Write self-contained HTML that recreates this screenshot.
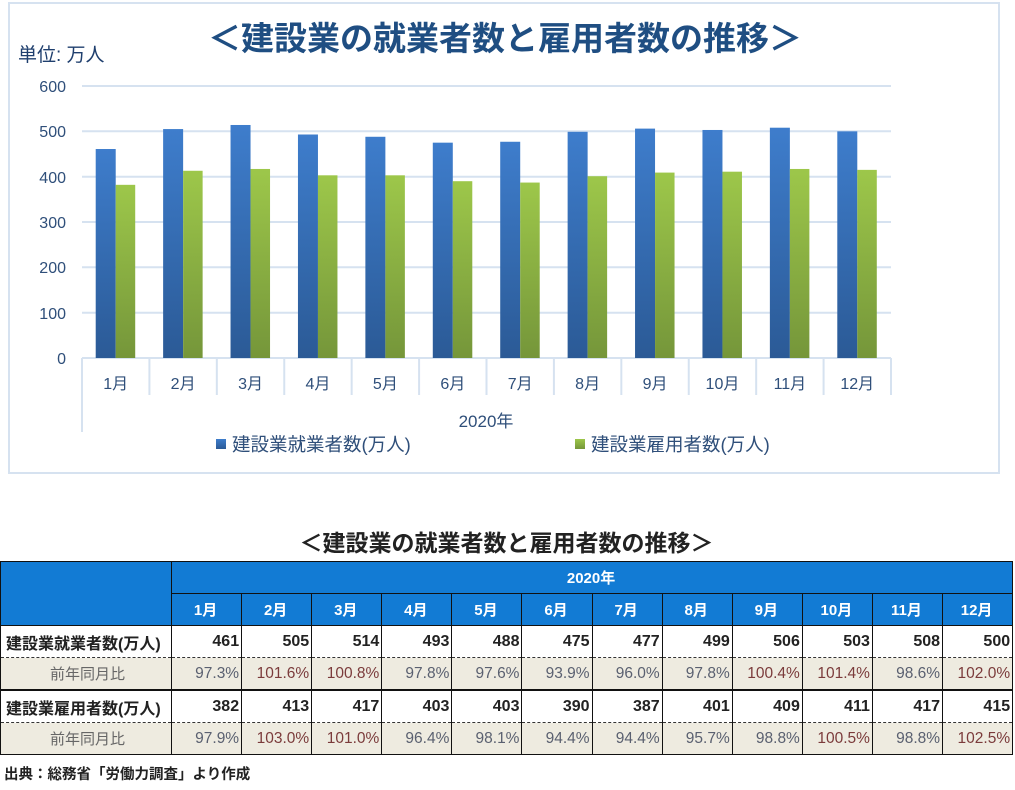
<!DOCTYPE html>
<html><head><meta charset="utf-8"><style>
body{margin:0;width:1015px;height:790px;background:#fff;position:relative;overflow:hidden;font-family:"Liberation Sans","Noto Sans CJK JP",sans-serif}
.a{position:absolute}
table{position:absolute;left:0;top:561px;border-collapse:collapse;table-layout:fixed;width:1013px}
td{padding:0 2px 0 0;text-align:right;font-size:16px;border:1px solid #111;white-space:nowrap;overflow:hidden}
.h td{background:#127bd4;color:#fff;font-weight:bold;text-align:center;height:31px;font-size:15px}
.v td{font-weight:bold;color:#222;height:31px;background:#fff;border-bottom:1px dashed #333}
.p td{background:#eeebe0;color:#5a6070;height:31px;border-top:1px dashed #333;font-size:15.5px}
.p td.r{color:#7b3b3b}
td.l{text-align:left;padding-left:5px}
.p td.l{text-align:center;color:#666;font-size:15px}
.thick td{border-top:2px solid #111}
</style></head><body>
<div class="a" style="left:8px;top:2px;width:988px;height:468px;border:2px solid #d6e2f0"></div>
<svg class="a" style="left:0;top:0" width="1015" height="480">
<defs>
<linearGradient id="gb" x1="0" y1="0" x2="0" y2="1"><stop offset="0" stop-color="#3e7dcc"/><stop offset="1" stop-color="#2b5a96"/></linearGradient>
<linearGradient id="gg" x1="0" y1="0" x2="0" y2="1"><stop offset="0" stop-color="#9dc74a"/><stop offset="1" stop-color="#75963a"/></linearGradient>
</defs>
<text x="505" y="50" text-anchor="middle" font-size="33" font-weight="bold" fill="#1f4e82" font-family="Liberation Sans,Noto Sans CJK JP,sans-serif">＜建設業の就業者数と雇用者数の推移＞</text>
<text x="18" y="61" font-size="19" fill="#1f3f6e" font-family="Liberation Sans,Noto Sans CJK JP,sans-serif">単位: 万人</text>
<g stroke="#d6e2f0" stroke-width="2">
<line x1="82" x2="891" y1="86" y2="86"/><line x1="82" x2="891" y1="131.3" y2="131.3"/><line x1="82" x2="891" y1="176.7" y2="176.7"/><line x1="82" x2="891" y1="222" y2="222"/><line x1="82" x2="891" y1="267.3" y2="267.3"/><line x1="82" x2="891" y1="312.7" y2="312.7"/>
<line x1="82" x2="891" y1="358" y2="358"/>
<line x1="82" x2="82" y1="358" y2="432"/>
</g>
<g font-size="16" fill="#2f4f7a" text-anchor="end" font-family="Liberation Sans,sans-serif">
<text x="66" y="92">600</text><text x="66" y="137">500</text><text x="66" y="183">400</text><text x="66" y="228">300</text><text x="66" y="273">200</text><text x="66" y="319">100</text><text x="66" y="364">0</text>
</g>
<g id="bars"></g>
<g id="cats" font-size="16" fill="#2f4f7a" text-anchor="middle" font-family="Liberation Sans,Noto Sans CJK JP,sans-serif"></g>
<text x="486" y="427" font-size="17" fill="#2f4f7a" text-anchor="middle" font-family="Liberation Sans,Noto Sans CJK JP,sans-serif">2020年</text>
<rect x="216" y="439" width="10" height="10" fill="url(#gb)"/>
<text x="232" y="451" font-size="18.5" fill="#2f4f7a" font-family="Liberation Sans,Noto Sans CJK JP,sans-serif">建設業就業者数(万人)</text>
<rect x="575" y="439" width="10" height="10" fill="url(#gg)"/>
<text x="591" y="451" font-size="18.5" fill="#2f4f7a" font-family="Liberation Sans,Noto Sans CJK JP,sans-serif">建設業雇用者数(万人)</text>
</svg>
<script>
var a=[461,505,514,493,488,475,477,499,506,503,508,500],b=[382,413,417,403,403,390,387,401,409,411,417,415];
var s="",c="",w=(891-82)/12;
for(var i=0;i<12;i++){var cx=82+w*(i+0.5);var h1=a[i]*272/600,h2=b[i]*272/600;
s+='<rect x="'+(cx-20)+'" y="'+(358-h1)+'" width="20" height="'+h1+'" fill="url(#gb)"/>';
s+='<rect x="'+cx+'" y="'+(358-h2)+'" width="19.5" height="'+h2+'" fill="url(#gg)"/>';
c+='<text x="'+cx+'" y="389">'+(i+1)+'月</text>';
c+='<line x1="'+(82+w*(i+1))+'" x2="'+(82+w*(i+1))+'" y1="358" y2="395" stroke="#d6e2f0" stroke-width="2"/>';}
document.getElementById("bars").innerHTML=s;document.getElementById("cats").innerHTML=c;
</script>
<div class="a" style="left:0;width:1013px;top:524px;text-align:center;font-size:23px;font-weight:bold;color:#222">＜建設業の就業者数と雇用者数の推移＞</div>
<table id="t">
<colgroup><col style="width:171px"><col span="12" style="width:70.1px"></colgroup>
<tr class="h"><td rowspan="2" style="border-right:1px solid #111"></td><td colspan="12">2020年</td></tr>
<tr class="h"><td>1月</td><td>2月</td><td>3月</td><td>4月</td><td>5月</td><td>6月</td><td>7月</td><td>8月</td><td>9月</td><td>10月</td><td>11月</td><td>12月</td></tr>
</table>
<script>
var r1=["97.3","101.6","100.8","97.8","97.6","93.9","96.0","97.8","100.4","101.4","98.6","102.0"],r2=["97.9","103.0","101.0","96.4","98.1","94.4","94.4","95.7","98.8","100.5","98.8","102.5"];
function rows(lbl,v,p,th){var h='<tr class="v'+(th?' thick':'')+'"><td class="l">'+lbl+'</td>';v.forEach(function(x){h+='<td>'+x+'</td>'});h+='</tr><tr class="p"><td class="l">前年同月比</td>';p.forEach(function(x){h+='<td class="'+(parseFloat(x)>=100?'r':'')+'">'+x+'%</td>'});return h+'</tr>';}
document.getElementById("t").insertAdjacentHTML("beforeend",rows("建設業就業者数(万人)",a,r1,0)+rows("建設業雇用者数(万人)",b,r2,1));
</script>
<div class="a" style="left:4px;top:763px;font-size:14.5px;font-weight:bold;color:#222">出典：総務省「労働力調査」より作成</div>
</body></html>
